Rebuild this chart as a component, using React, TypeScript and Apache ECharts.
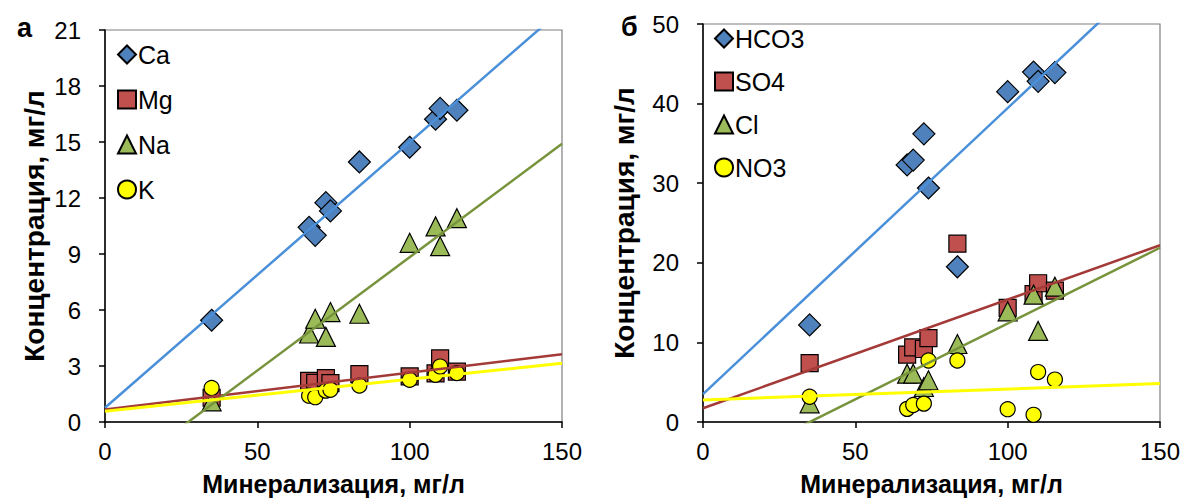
import React, { useEffect, useRef } from "react";
import * as echarts from "echarts";

// Mineralization of each sample, mg/l (x axis, both panels)
const mineral = [35, 67, 69, 72.5, 74, 83.5, 100, 108.5, 110, 115.5];

// Panel а: cations, mg/l
const ca = [5.45, 10.43, 10.0, 11.75, 11.31, 13.93, 14.72, 16.22, 16.8, 16.7];
const mg = [1.3, 2.2, 2.1, 2.35, 2.08, 2.56, 2.44, 2.6, 3.41, 2.7];
const na = [1.1, 4.74, 5.53, 4.56, 5.89, 5.8, 9.6, 10.48, 9.42, 10.92];
const k = [1.82, 1.41, 1.33, 1.68, 1.73, 1.95, 2.26, 2.53, 2.97, 2.62];

// Panel б: anions, mg/l
const hco3 = [12.2, 32.3, 32.9, 36.2, 29.4, 19.5, 41.5, 43.96, 42.8, 43.9];
const so4 = [7.39, 8.47, 9.38, 9.17, 10.54, 22.4, 14.33, 16.07, 17.43, 16.5];
const cl = [2.35, 6.07, 6.07, 4.4, 5.24, 9.8, 13.9, 16.0, 11.44, 17.0];
const no3 = [3.17, 1.65, 2.14, 2.31, 7.72, 7.72, 1.61, 0.9, 6.27, 5.33];

// Linear trend lines [intercept, slope]
const trendCa = [0.76, 0.1423];
const trendMg = [0.67, 0.0197];
const trendNa = [-3.32, 0.1215];
const trendK = [0.58, 0.0171];
const trendHco3 = [3.5, 0.3594];
const trendSo4 = [1.73, 0.1365];
const trendCl = [-6.67, 0.1904];
const trendNo3 = [2.77, 0.0137];

const xTicks = [0, 50, 100, 150];
const yMaxA = 21;
const yStepA = 3;
const yMaxB = 50;
const yStepB = 10;

const FONT = "'Liberation Sans', Arial, sans-serif";
const BLUE = "#4F81BD";
const RED = "#C0504D";
const GREEN = "#9BBB59";
const YELLOW = "#FFFF00";

const pairs = (ys: number[]) => mineral.map((x, i) => [x, ys[i]]);
const trend = (c: number[]) =>
  [xTicks[0], xTicks[xTicks.length - 1]].map((x) => [x, c[0] + c[1] * x]);

function scatter(name: string, ys: number[], idx: number, symbol: string, size: number, color: string) {
  return {
    name,
    type: "scatter",
    xAxisIndex: idx,
    yAxisIndex: idx,
    symbol,
    symbolSize: size,
    data: pairs(ys),
    itemStyle: { color, borderColor: "#000", borderWidth: 1.2, opacity: 1 },
    z: 3,
  };
}

function line(c: number[], idx: number, color: string, width = 2.5) {
  return {
    type: "line",
    xAxisIndex: idx,
    yAxisIndex: idx,
    data: trend(c),
    symbol: "none",
    clip: true,
    lineStyle: { color, width },
    silent: true,
    z: 4,
  };
}

function xAxis(idx: number) {
  return {
    type: "value",
    gridIndex: idx,
    min: 0,
    max: 150,
    interval: 50,
    name: "Минерализация, мг/л",
    nameLocation: "middle",
    nameGap: 49,
    nameTextStyle: { fontFamily: FONT, fontSize: 25, fontWeight: "bold", color: "#000" },
    axisLine: { show: true, onZero: false, lineStyle: { color: "#000", width: 1.5 } },
    axisTick: { show: true, inside: false, length: 6, lineStyle: { color: "#000", width: 1.5 } },
    axisLabel: { fontFamily: FONT, fontSize: 24, color: "#000", margin: 17 },
    splitLine: { show: false },
  };
}

function yAxis(idx: number, max: number, step: number, gap: number) {
  return {
    type: "value",
    gridIndex: idx,
    min: 0,
    max,
    interval: step,
    name: "Концентрация, мг/л",
    nameLocation: "middle",
    nameRotate: 90,
    nameGap: gap,
    nameTextStyle: { fontFamily: FONT, fontSize: 28, fontWeight: "bold", color: "#000" },
    axisLine: { show: true, onZero: false, lineStyle: { color: "#000", width: 1.5 } },
    axisTick: { show: true, inside: false, length: 6, lineStyle: { color: "#000", width: 1.5 } },
    axisLabel: { fontFamily: FONT, fontSize: 24, color: "#000", margin: 24 },
    splitLine: { show: false },
  };
}

function legend(names: string[], left: number, top: number, gap: number) {
  return {
    data: names,
    orient: "vertical",
    left,
    top,
    itemGap: gap,
    itemWidth: 18,
    itemHeight: 18,
    selectedMode: false,
    textStyle: { fontFamily: FONT, fontSize: 25, lineHeight: 24, color: "#000", padding: [0, 0, 0, -3] },
  };
}

export default function App() {
  const ref = useRef<HTMLDivElement>(null);
  useEffect(() => {
    if (!ref.current) return;
    const chart = echarts.init(ref.current, null, { renderer: "svg" });
    chart.setOption({
      animation: false,
      backgroundColor: "#fff",
      grid: [
        { left: 105, top: 30, width: 457, height: 396, show: true, borderColor: "#7f7f7f", borderWidth: 1.2 },
        { left: 703, top: 24, width: 457, height: 403, show: true, borderColor: "#7f7f7f", borderWidth: 1.2 },
      ],
      title: [
        { text: "а", left: 12, top: 9, textStyle: { fontFamily: FONT, fontSize: 27, fontWeight: "bold", color: "#000" } },
        { text: "б", left: 616, top: 8, textStyle: { fontFamily: FONT, fontSize: 27, fontWeight: "bold", color: "#000" } },
      ],
      legend: [
        legend(["Ca", "Mg", "Na", "K"], 112, 37, 20),
        legend(["HCO3", "SO4", "Cl", "NO3"], 709, 21, 18),
      ],
      xAxis: [xAxis(0), xAxis(1)],
      yAxis: [yAxis(0, yMaxA, yStepA, 57), yAxis(1, yMaxB, yStepB, 65)],
      series: [
        scatter("Ca", ca, 0, "diamond", 22, BLUE),
        scatter("Mg", mg, 0, "rect", 17, RED),
        scatter("Na", na, 0, "triangle", 19, GREEN),
        scatter("K", k, 0, "circle", 15, YELLOW),
        line(trendCa, 0, "#4A8FD9"),
        line(trendMg, 0, "#A33A38"),
        line(trendNa, 0, "#77933C"),
        line(trendK, 0, "#FFFF00", 3),
        scatter("HCO3", hco3, 1, "diamond", 22, BLUE),
        scatter("SO4", so4, 1, "rect", 17, RED),
        scatter("Cl", cl, 1, "triangle", 19, GREEN),
        scatter("NO3", no3, 1, "circle", 15, YELLOW),
        line(trendHco3, 1, "#4A8FD9"),
        line(trendSo4, 1, "#A33A38"),
        line(trendCl, 1, "#77933C"),
        line(trendNo3, 1, "#FFFF00", 3),
      ],
    });
    return () => chart.dispose();
  }, []);
  return (
    <div
      ref={ref}
      style={{ position: "fixed", left: 0, top: 0, width: 1184, height: 501, background: "#fff" }}
    />
  );
}
